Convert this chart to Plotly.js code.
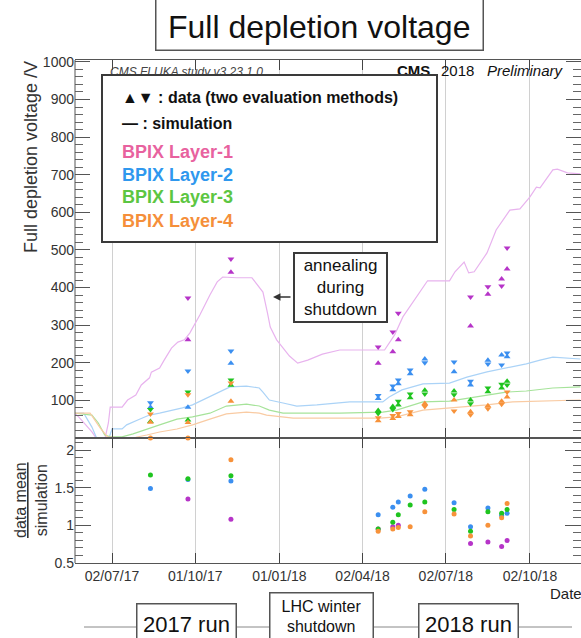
<!DOCTYPE html>
<html><head><meta charset="utf-8">
<script src="https://cdn.plot.ly/plotly-3.0.1.min.js"></script>
<style>html,body{margin:0;padding:0;background:#fff;overflow:hidden}#chart{width:581px;height:638px}</style>
</head><body><div id="chart"></div>
<script>
// ---------- data ----------
const layerNames = ['BPIX Layer-1', 'BPIX Layer-2', 'BPIX Layer-3', 'BPIX Layer-4'];
const measDates = ['2017-08-13', '2017-09-23', '2017-11-09', '2018-04-19', '2018-05-05', '2018-05-11', '2018-05-24',
                   '2018-06-09', '2018-07-11', '2018-07-29', '2018-08-17', '2018-09-01', '2018-09-07'];
// method "up" (triangle-up) and method "down" (triangle-down), V
const l1Up   = [null, 261, 441, 199, 229, 261, null, null, null, 298, 382, 423, 449];
const l1Down = [null, 372, 476, 242, 282, 332, null, null, null, 375, 402, 404, 505];
const l2Up   = [82, 82, 199, 105, 128, 144, 171, 210, 176, 141, 207, 221, 216];
const l2Down = [94, 178, 231, 113, 138, 154, 181, 200, 202, 151, 197, 194, 226];
const l3Up   = [44, 48, 140, 73, 84, 88, 107, 127, 125, 101, 123, 133, 151];
const l3Down = [76, 122, 154, 65, 76, 98, 117, 117, 115, 91, 133, 143, 141];
const l4Up   = [42, 41, 98, 46, 52, 57, 62, 92, 101, 70, 86, 98, 109];
const l4Down = [64, 115, 146, 54, 60, 65, 70, 84, 72, 62, 78, 90, 122];
// data mean / simulation
const l1Ratio = [null, 1.35, 1.08, 0.95, 0.98, 1.00, null, null, null, 0.76, 0.78, 0.72, 0.80];
const l2Ratio = [1.49, 1.61, 1.59, 1.14, 1.24, 1.31, 1.39, 1.48, 1.30, 0.98, 1.23, 1.13, 1.16];
const l3Ratio = [1.67, 1.62, 1.66, 0.95, 1.04, 1.14, 1.27, 1.31, 1.21, 0.92, 1.18, 1.16, 1.21];
const l4Ratio = [2.16, 2.16, 1.87, 0.92, 0.95, 0.97, 0.98, 1.18, 1.15, 0.86, 1.00, 1.10, 1.29];

// simulation curves
const sim1Dates = ['2017-05-22','2017-05-27','2017-06-10','2017-06-16','2017-06-24','2017-06-28','2017-06-30','2017-07-13','2017-07-19','2017-07-28','2017-08-03','2017-08-12','2017-08-14','2017-08-23','2017-08-28','2017-09-05','2017-09-12','2017-09-19','2017-09-25','2017-10-06','2017-10-17','2017-10-25','2017-10-31','2017-11-15','2017-12-02','2017-12-14','2017-12-19','2017-12-22','2017-12-29','2018-01-12','2018-01-21','2018-02-01','2018-02-17','2018-03-05','2018-03-08','2018-04-26','2018-05-01','2018-05-07','2018-05-16','2018-05-31','2018-06-12','2018-07-06','2018-07-12','2018-07-22','2018-07-27','2018-08-02','2018-08-16','2018-08-26','2018-09-10','2018-09-21','2018-10-02','2018-10-09','2018-10-13','2018-10-27','2018-11-01','2018-11-12','2018-11-26'];
const sim1Vals  = [66, 55, 16, -5, -5, 40, 82, 82, 101, 114, 141, 160, 175, 186, 207, 239, 255, 261, 279, 327, 380, 415, 428, 426, 426, 388, 332, 295, 261, 218, 199, 207, 223, 231, 234, 234, 253, 274, 322, 375, 418, 418, 442, 468, 439, 442, 492, 553, 606, 609, 641, 667, 665, 713, 715, 705, 702];
const sim2Dates = ['2017-05-22','2017-06-01','2017-06-10','2017-06-16','2017-06-28','2017-07-02','2017-07-13','2017-07-18','2017-08-01','2017-08-12','2017-08-23','2017-09-03','2017-09-17','2017-09-28','2017-10-09','2017-10-24','2017-11-08','2017-11-26','2017-12-10','2017-12-14','2017-12-21','2018-01-05','2018-01-20','2018-02-11','2018-03-05','2018-03-19','2018-04-24','2018-05-01','2018-05-15','2018-06-07','2018-07-06','2018-07-25','2018-08-16','2018-09-10','2018-09-28','2018-10-13','2018-10-27','2018-11-26'];
const sim2Vals  = [66, 66, 29, -5, -5, 24, 24, 35, 50, 61, 66, 72, 80, 88, 101, 119, 136, 138, 133, 122, 101, 93, 85, 88, 93, 96, 96, 109, 128, 144, 146, 162, 176, 189, 197, 207, 215, 210];
const sim3Dates = ['2017-05-22','2017-06-10','2017-06-17','2017-06-24','2017-06-30','2017-07-13','2017-07-25','2017-08-09','2017-08-23','2017-09-11','2017-09-28','2017-10-17','2017-11-04','2017-11-26','2017-12-10','2017-12-21','2018-01-05','2018-03-08','2018-04-24','2018-05-09','2018-06-07','2018-07-06','2018-08-16','2018-09-06','2018-09-28','2018-10-27','2018-11-26'];
const sim3Vals  = [66, 61, 40, 8, 3, 3, 11, 24, 35, 50, 56, 66, 85, 90, 85, 74, 66, 66, 69, 74, 96, 98, 114, 122, 125, 133, 136];
const sim4Dates = ['2017-05-22','2017-06-08','2017-06-19','2017-06-27','2017-07-13','2017-07-28','2017-08-09','2017-08-23','2017-09-11','2017-09-28','2017-10-17','2017-11-04','2017-11-26','2017-12-10','2017-12-18','2018-01-16','2018-04-21','2018-05-09','2018-06-07','2018-07-06','2018-08-16','2018-09-13','2018-11-26'];
const sim4Vals  = [66, 66, 27, 3, 0, 2, 8, 16, 24, 35, 50, 64, 69, 66, 61, 53, 53, 56, 74, 80, 88, 96, 101];

const tickDates  = ['2017-07-02', '2017-10-01', '2018-01-01', '2018-04-02', '2018-07-02', '2018-10-02'];
const tickLabels = ['02/07/17', '01/10/17', '01/01/18', '02/04/18', '02/07/18', '02/10/18'];
const voltageTicks = [100, 200, 300, 400, 500, 600, 700, 800, 900, 1000];
const ratioTicks = [0.5, 1, 1.5, 2];
const ratioTickText = ['0.5', '1', '1.5', '2'];

// ---------- styles ----------
const markerColors = ['#b634c8', '#3b8ff0', '#1fc41f', '#f7923a'];
const simColors    = ['#e8b3ee', '#abd3f7', '#a6e39a', '#f9cba3'];
const textColors   = ['#e8629f', '#2f98ee', '#5cc642', '#f58f3a'];
const FONT = 'Liberation Sans, Arial, Helvetica, sans-serif';

const ups = [l1Up, l2Up, l3Up, l4Up];
const downs = [l1Down, l2Down, l3Down, l4Down];
const ratios = [l1Ratio, l2Ratio, l3Ratio, l4Ratio];
const simD = [sim1Dates, sim2Dates, sim3Dates, sim4Dates];
const simV = [sim1Vals, sim2Vals, sim3Vals, sim4Vals];

const traces = [];
for (let i = 0; i < 4; i++) {
  traces.push({x: simD[i], y: simV[i], type: 'scatter', mode: 'lines', xaxis: 'x', yaxis: 'y',
    line: {color: simColors[i], width: 1.2}, hoverinfo: 'skip', showlegend: false});
}
for (let i = 0; i < 4; i++) {
  traces.push({x: measDates, y: ups[i], type: 'scatter', mode: 'markers', xaxis: 'x', yaxis: 'y',
    marker: {symbol: 'triangle-up', size: 6, color: markerColors[i]}, showlegend: false, name: layerNames[i]});
  traces.push({x: measDates, y: downs[i], type: 'scatter', mode: 'markers', xaxis: 'x', yaxis: 'y',
    marker: {symbol: 'triangle-down', size: 6, color: markerColors[i]}, showlegend: false, name: layerNames[i]});
}
for (let i = 0; i < 4; i++) {
  traces.push({x: measDates, y: ratios[i], type: 'scatter', mode: 'markers', xaxis: 'x2', yaxis: 'y2',
    cliponaxis: false, marker: {symbol: 'circle', size: 5, color: markerColors[i]}, showlegend: false, name: layerNames[i]});
}

// geometry helpers (plot area: x 75..581, y 60..563)
const PL = 75, PW = 506, PT = 60, PH = 503;
const px = v => (v - PL) / PW;
const py = v => (PT + PH - v) / PH;
const split = 125 / PH;

const xRange = ['2017-05-22 12:00', '2018-11-26 19:00'];
const axisX = {
  type: 'date', range: xRange, tickmode: 'array', tickvals: tickDates, ticktext: tickLabels,
  ticks: 'inside', ticklen: 10, tickcolor: '#444', tickwidth: 1,
  showgrid: true, gridcolor: '#d0d0d0', gridwidth: 1,
  showline: true, linecolor: '#555', linewidth: 1, mirror: 'ticks', zeroline: false,
  tickfont: {family: FONT, size: 14, color: '#333'}
};

const ann = [];
const txt = (text, x, y, opts) => Object.assign({text, x: px(x), y: py(y), xref: 'paper', yref: 'paper',
  showarrow: false, xanchor: 'left', yanchor: 'middle', font: {family: FONT, size: 14, color: '#222'}}, opts || {});

ann.push(txt('Full depletion voltage /V', 31, 157, {xanchor: 'center', textangle: -90, font: {family: FONT, size: 18, color: '#333'}}));
ann.push(txt('<u>data mean</u><br>simulation', 31, 500, {xanchor: 'center', textangle: -90, font: {family: FONT, size: 16, color: '#333'}}));
// title box + title
ann.push(txt(' ', 319, 20, {xanchor: 'center', width: 326, height: 58, bordercolor: '#555', borderwidth: 1.5, borderpad: 0, bgcolor: '#fff'}));
ann.push(txt('Full depletion voltage', 319, 27, {xanchor: 'center', font: {family: FONT, size: 32, color: '#111'}}));
ann.push(txt('<i>CMS FLUKA study v3.23.1.0</i>', 108, 72, {font: {family: FONT, size: 12, color: '#444'}}));
ann.push(txt('<b>CMS</b>', 395, 70, {font: {family: FONT, size: 15, color: '#111'}}));
ann.push(txt('2018', 439, 70, {font: {family: FONT, size: 15, color: '#111'}}));
ann.push(txt('<i>Preliminary</i>', 485, 70, {font: {family: FONT, size: 15, color: '#111'}}));
// legend box
ann.push(txt(' ', 101, 74, {yanchor: 'top', width: 333, height: 165, borderwidth: 2, borderpad: 0, bordercolor: '#3a3a3a', bgcolor: '#fff'}));
ann.push(txt('<b>\u25B2\u25BC : data (two evaluation methods)</b>', 120, 98, {font: {family: FONT, size: 16, color: '#111'}}));
ann.push(txt('<b>\u2014 : simulation</b>', 120, 123, {font: {family: FONT, size: 16, color: '#111'}}));
const legY = [152, 175, 197, 221];
for (let i = 0; i < 4; i++) {
  ann.push(txt('<b>' + layerNames[i] + '</b>', 120, legY[i], {font: {family: FONT, size: 18, color: textColors[i]}}));
}
// annealing note
ann.push(txt('annealing<br>during<br>shutdown', 340, 287, {xanchor: 'center', width: 91, height: 67, borderwidth: 2, borderpad: 0,
  bordercolor: '#3a3a3a', bgcolor: '#fff', font: {family: FONT, size: 17, color: '#111'}}));
ann.push({text: '', x: px(273), y: py(297), xref: 'paper', yref: 'paper', showarrow: true, ax: 19, ay: 0,
  arrowhead: 2, arrowsize: 1, arrowwidth: 1.5, arrowcolor: '#333', standoff: 0});
// timeline
ann.push(txt('2017 run', 186, 624, {xanchor: 'center', width: 98, height: 40, borderwidth: 1.5, borderpad: 0, bordercolor: '#555', bgcolor: '#fff',
  font: {family: FONT, size: 22, color: '#111'}}));
ann.push(txt('LHC winter<br>shutdown', 321, 616, {xanchor: 'center', width: 102, height: 46, borderwidth: 1.5, borderpad: 0, bordercolor: '#555', bgcolor: '#fff',
  font: {family: FONT, size: 16, color: '#111'}}));
ann.push(txt('2018 run', 468, 624, {xanchor: 'center', width: 98, height: 40, borderwidth: 1.5, borderpad: 0, bordercolor: '#555', bgcolor: '#fff',
  font: {family: FONT, size: 22, color: '#111'}}));
ann.push(txt('Date', 548, 593, {font: {family: FONT, size: 15, color: '#222'}}));

const layout = {
  width: 581, height: 638, margin: {l: PL, r: 0, t: PT, b: 638 - PT - PH},
  paper_bgcolor: '#fff', plot_bgcolor: '#fff', showlegend: false,
  font: {family: FONT, color: '#333'},
  xaxis: Object.assign({}, axisX, {anchor: 'y', showticklabels: false}),
  xaxis2: Object.assign({}, axisX, {anchor: 'y2', showticklabels: true}),
  yaxis: {domain: [split, 1], range: [0, 1005], tickmode: 'array', tickvals: voltageTicks,
    ticks: 'inside', ticklen: 15, tickcolor: '#555', showline: false, mirror: 'ticks', zeroline: false, showgrid: false,
    minor: {ticks: 'inside', ticklen: 8, tickmode: 'linear', tick0: 0, dtick: 20, tickcolor: '#666', showgrid: false},
    tickfont: {family: FONT, size: 14, color: '#333'}},
  yaxis2: {domain: [0, split], range: [0.5, 2.16], tickmode: 'array', tickvals: ratioTicks, ticktext: ratioTickText,
    ticks: 'inside', ticklen: 16, tickcolor: '#555', showline: false, mirror: 'ticks', zeroline: false, showgrid: false,
    minor: {ticks: 'inside', ticklen: 8, tickmode: 'linear', tick0: 0, dtick: 0.1, tickcolor: '#666', showgrid: false},
    tickfont: {family: FONT, size: 14, color: '#333'}},
  shapes: [
    {type: 'line', xref: 'paper', yref: 'paper', x0: 0, x1: 0, y0: 0, y1: 1, line: {color: '#555', width: 1}},
    {type: 'line', xref: 'paper', yref: 'paper', x0: px(84), x1: px(572), y0: py(627), y1: py(627), line: {color: '#888', width: 1}}
  ],
  annotations: ann
};
Plotly.newPlot('chart', traces, layout, {displayModeBar: false, staticPlot: true});
</script>
</body></html>
